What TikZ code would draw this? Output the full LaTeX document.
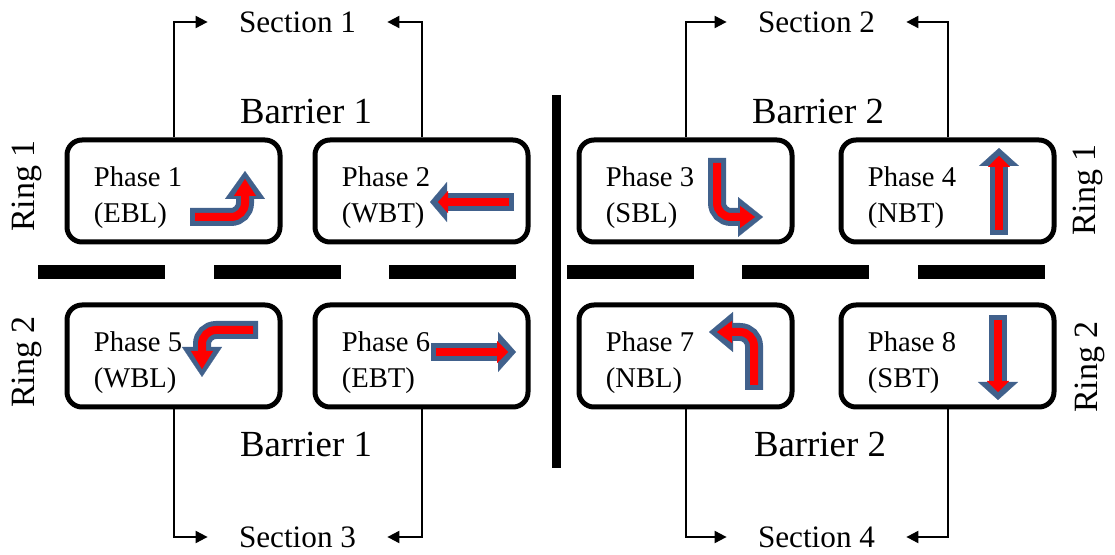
\documentclass[tikz,border=0pt]{standalone}
\usepackage{fontspec}
\setmainfont{Liberation Serif}
\usetikzlibrary{arrows.meta}
\definecolor{mvblue}{RGB}{65,97,140}
\definecolor{mvred}{RGB}{255,0,0}
\tikzset{
  phasebox/.style={draw, line width=2.5pt, rounded corners=7.5pt, minimum width=106.5pt, minimum height=51pt, inner sep=0pt},
  phasetxt/.style={align=left, inner sep=0pt, anchor=north west, font=\fontsize{14.3pt}{18pt}\selectfont},
  sect/.style={inner xsep=15.5pt, inner ysep=0pt, font=\fontsize{15.6pt}{18pt}\selectfont},
  barr/.style={font=\fontsize{18.4pt}{22pt}\selectfont},
  ring/.style={rotate=90, font=\fontsize{17pt}{20pt}\selectfont},
  conn/.style={line width=1pt, -{Triangle[length=6pt,width=6pt]}},
  stopbar/.style={line width=7pt},
  mvout/.style={draw=mvblue, line width=9pt, rounded corners=7pt, -{Triangle[length=#1, width=20pt, line width=0.1pt]}},
  mvin/.style={draw=mvred, line width=4pt, rounded corners=7pt, shorten <=2.5pt, shorten >=4pt, -{Triangle[length=#1, width=11pt, line width=0.1pt]}}
}
\newcommand\mvarrow[3]{\draw[mvout=#1] #3; \draw[mvin=#2] #3;}
\begin{document}
\begin{tikzpicture}[x=0.5pt, y=-0.5pt]
  \useasboundingbox (0,0) rectangle (1115,555);

  % boxes
  \node[phasebox] (b1) at (173.5,191) {};
  \node[phasebox] (b2) at (421.5,191) {};
  \node[phasebox] (b3) at (685.5,191) {};
  \node[phasebox] (b4) at (947.5,191) {};
  \node[phasebox] (b5) at (173.5,356) {};
  \node[phasebox] (b6) at (421.5,356) {};
  \node[phasebox] (b7) at (685.5,356) {};
  \node[phasebox] (b8) at (947.5,356) {};

  \node[phasetxt] (p1) at ([shift={(29,29)}]b1.north west) {Phase 1\\(EBL)};
  \node[phasetxt] (p2) at ([shift={(29,29)}]b2.north west) {Phase 2\\(WBT)};
  \node[phasetxt] (p3) at ([shift={(29,29)}]b3.north west) {Phase 3\\(SBL)};
  \node[phasetxt] (p4) at ([shift={(29,29)}]b4.north west) {Phase 4\\(NBT)};
  \node[phasetxt] (p5) at ([shift={(29,29)}]b5.north west) {Phase 5\\(WBL)};
  \node[phasetxt] (p6) at ([shift={(29,29)}]b6.north west) {Phase 6\\(EBT)};
  \node[phasetxt] (p7) at ([shift={(29,29)}]b7.north west) {Phase 7\\(NBL)};
  \node[phasetxt] (p8) at ([shift={(29,29)}]b8.north west) {Phase 8\\(SBT)};

  % movements
  \mvarrow{14pt}{8.5pt}{(190,217) -| (245,171)}
  \mvarrow{8.5pt}{5pt}{(514,202) -- (430,202)}
  \mvarrow{12.5pt}{7.5pt}{(717,158) |- (763,217)}
  \mvarrow{9pt}{5.5pt}{(999,235) -- (999,148)}
  \mvarrow{15pt}{9pt}{(258,330) -| (202,377)}
  \mvarrow{9pt}{5.5pt}{(431,352) -- (516,352)}
  \mvarrow{12pt}{7.5pt}{(754,390) |- (709,332)}
  \mvarrow{9pt}{5.5pt}{(998,315) -- (998,400)}

  % sections
  \node[sect] (s1) at (297.5,22) {Section 1};
  \node[sect] (s2) at (816.5,22) {Section 2};
  \node[sect] (s3) at (297.5,537) {Section 3};
  \node[sect] (s4) at (816.5,537) {Section 4};
  \draw[conn] (b1.north) |- (s1.west);
  \draw[conn] (b2.north) |- (s1.east);
  \draw[conn] (b3.north) |- (s2.west);
  \draw[conn] (b4.north) |- (s2.east);
  \draw[conn] (b5.south) |- (s3.west);
  \draw[conn] (b6.south) |- (s3.east);
  \draw[conn] (b7.south) |- (s4.west);
  \draw[conn] (b8.south) |- (s4.east);

  \node[barr] (bt1) at (306,112) {Barrier 1};
  \node[barr] (bt2) at (818,112) {Barrier 2};
  \node[barr] (bb1) at (306,444) {Barrier 1};
  \node[barr] (bb2) at (820,444) {Barrier 2};

  \node[ring] (r1l) at (27,186) {Ring 1};
  \node[ring] (r2l) at (27,362) {Ring 2};
  \node[ring] (r1r) at (1088,190) {Ring 1};
  \node[ring] (r2r) at (1090,367) {Ring 2};

  % barriers
  \foreach \x in {38,214,389,567,742,918}
    \draw[stopbar] (\x,272) -- ++(127,0);
  \draw[line width=4.5pt] (556,95) -- (556,468);
\end{tikzpicture}
\end{document}
